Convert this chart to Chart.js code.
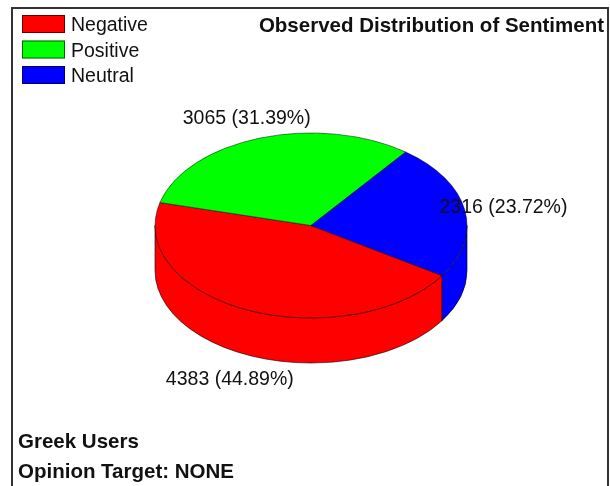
<!DOCTYPE html>
<html>
<head>
<meta charset="utf-8">
<title>Observed Distribution of Sentiment</title>
<script src="https://cdn.jsdelivr.net/npm/chart.js@4/dist/chart.umd.min.js"></script>
<style>
  html, body { margin: 0; padding: 0; background: #fff; }
  canvas { display: block; }
</style>
</head>
<body>
<canvas id="sentimentChart" width="610" height="486"></canvas>
<script>
const categories = ["Negative", "Positive", "Neutral"];
const counts = [4383, 3065, 2316];
const sliceColors = ["#ff0000", "#00ff00", "#0000ff"];
const chartTitle = "Observed Distribution of Sentiment";
const footerLines = ["Greek Users", "Opinion Target: NONE"];

const FONT = '"Liberation Sans", Arial, sans-serif';
const TILT = 0.593;   // vertical squash of the pie
const DEPTH = 45;     // height of the side wall
const EDGE = "rgba(0,0,0,0.6)";
const LABEL_NUDGE = [[-5, 6], [-2, 0], [5, 2]];   // small per-slice label shifts

// Side wall of one slice, limited to the part facing the viewer
function drawWall(ctx, arc, color) {
  const rx = arc.outerRadius;
  const ry = rx * TILT;
  [[0, Math.PI], [2 * Math.PI, 3 * Math.PI]].forEach(([lo, hi]) => {
    const a0 = Math.max(arc.startAngle, lo);
    const a1 = Math.min(arc.endAngle, hi);
    if (a1 <= a0) return;
    ctx.beginPath();
    ctx.ellipse(arc.x, arc.y, rx, ry, 0, a0, a1);
    ctx.ellipse(arc.x, arc.y + DEPTH, rx, ry, 0, a1, a0, true);
    ctx.closePath();
    ctx.fillStyle = color;
    ctx.fill();
    ctx.strokeStyle = EDGE;
    ctx.lineWidth = 1;
    ctx.stroke();
  });
}

const pie3d = {
  id: "pie3d",
  beforeDraw(chart) {
    // outer frame, runs off the bottom of the canvas
    const ctx = chart.ctx;
    ctx.save();
    ctx.strokeStyle = "#333";
    ctx.lineWidth = 2;
    ctx.strokeRect(12, 8, 596, 500);
    ctx.restore();
  },
  beforeDatasetsDraw(chart) {
    const ctx = chart.ctx;
    const arcs = chart.getDatasetMeta(0).data;
    ctx.save();
    arcs.forEach((arc, i) => drawWall(ctx, arc, sliceColors[i]));
    ctx.translate(arcs[0].x, arcs[0].y);
    ctx.scale(1, TILT);
    ctx.translate(-arcs[0].x, -arcs[0].y);
  },
  afterDatasetsDraw(chart) {
    const ctx = chart.ctx;
    ctx.restore();

    const arcs = chart.getDatasetMeta(0).data;
    const total = counts.reduce((a, b) => a + b, 0);
    ctx.save();
    ctx.font = "19.5px " + FONT;
    ctx.fillStyle = "#111";
    ctx.textAlign = "center";
    ctx.textBaseline = "middle";

    // value labels sit on a wider ellipse around the pie
    arcs.forEach((arc, i) => {
      const mid = (arc.startAngle + arc.endAngle) / 2;
      const r = arc.outerRadius * 1.22;
      const x = arc.x + Math.cos(mid) * r + LABEL_NUDGE[i][0];
      let y = arc.y + Math.sin(mid) * r * TILT + LABEL_NUDGE[i][1];
      if (Math.sin(mid) > 0) y += DEPTH;
      const pct = (counts[i] / total * 100).toFixed(2);
      ctx.fillText(counts[i] + " (" + pct + "%)", x, y);
    });

    // legend
    ctx.textAlign = "left";
    categories.forEach((name, i) => {
      const y = 15 + i * 25.5;
      ctx.fillStyle = sliceColors[i];
      ctx.fillRect(22, y, 43, 18);
      ctx.strokeStyle = EDGE;
      ctx.lineWidth = 1;
      ctx.strokeRect(22.5, y + 0.5, 42, 17);
      ctx.fillStyle = "#111";
      ctx.fillText(name, 71, y + 11);
    });
    ctx.restore();
  },
};

new Chart(document.getElementById("sentimentChart"), {
  type: "pie",
  data: {
    labels: categories,
    datasets: [
      {
        data: counts,
        backgroundColor: sliceColors,
        borderColor: EDGE,
        borderWidth: 1,
        clip: false,
      },
    ],
  },
  options: {
    responsive: false,
    animation: false,
    events: [],
    rotation: 122.8,
    radius: 156,
    layout: { padding: { left: 18, right: 6 } },
    plugins: {
      legend: { display: false },
      tooltip: { enabled: false },
      title: {
        display: true,
        text: chartTitle,
        align: "end",
        color: "#111",
        font: { family: FONT, size: 20.5, weight: "bold", lineHeight: 1.2 },
        padding: { top: 14, bottom: 1 },
      },
      subtitle: {
        display: true,
        position: "bottom",
        text: footerLines,
        align: "start",
        color: "#111",
        font: { family: FONT, size: 20.5, weight: "bold", lineHeight: 1.45 },
        padding: { top: 16.15, bottom: -1 },
      },
    },
  },
  plugins: [pie3d],
});
</script>
</body>
</html>
